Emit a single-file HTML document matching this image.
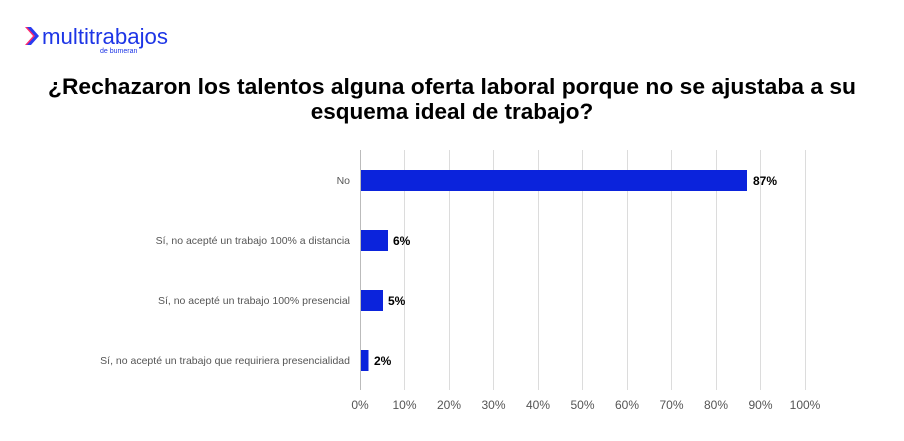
<!DOCTYPE html>
<html><head><meta charset="utf-8"><style>
body{margin:0;background:#fff;width:904px;height:436px;overflow:hidden;font-family:"Liberation Sans",Arial,sans-serif}
</style></head><body>
<svg width="904" height="436" xmlns="http://www.w3.org/2000/svg" font-family="Liberation Sans, Arial, sans-serif">
<rect width="904" height="436" fill="#fff"/>
<polygon points="25,27 33,36 25,45 29,45 37,36 29,27" fill="#ff2a6d"/>
<polygon points="27,27 35,36 27,45 31,45 39,36 31,27" fill="#2a3cf0"/>
<text x="42" y="44" font-size="22" fill="#1d35e6" textLength="126" lengthAdjust="spacingAndGlyphs">multitrabajos</text>
<text x="100" y="53" font-size="7" fill="#1d35e6">de bumeran</text>
<text x="452" y="94" font-size="22.5" font-weight="bold" text-anchor="middle" fill="#000" textLength="808" lengthAdjust="spacingAndGlyphs">¿Rechazaron los talentos alguna oferta laboral porque no se ajustaba a su</text>
<text x="452" y="119" font-size="22.5" font-weight="bold" text-anchor="middle" fill="#000">esquema ideal de trabajo?</text>
<g stroke="#dcdcdc" stroke-width="1">
<line x1="360.5" y1="150" x2="360.5" y2="390" stroke="#bbb"/>
<line x1="404.5" y1="150" x2="404.5" y2="390"/>
<line x1="449.5" y1="150" x2="449.5" y2="390"/>
<line x1="493.5" y1="150" x2="493.5" y2="390"/>
<line x1="538.5" y1="150" x2="538.5" y2="390"/>
<line x1="582.5" y1="150" x2="582.5" y2="390"/>
<line x1="627.5" y1="150" x2="627.5" y2="390"/>
<line x1="671.5" y1="150" x2="671.5" y2="390"/>
<line x1="716.5" y1="150" x2="716.5" y2="390"/>
<line x1="760.5" y1="150" x2="760.5" y2="390"/>
<line x1="805.5" y1="150" x2="805.5" y2="390"/>
</g>
<g fill="#0b23dc">
<rect x="361" y="170" width="386" height="21"/>
<rect x="361" y="230" width="27" height="21"/>
<rect x="361" y="290" width="22" height="21"/>
<rect x="361" y="350" width="7.5" height="21"/>
</g>
<g font-size="12" font-weight="bold" fill="#000">
<text x="753" y="185">87%</text>
<text x="393" y="245">6%</text>
<text x="388" y="305">5%</text>
<text x="374" y="365">2%</text>
</g>
<g font-size="10.5" fill="#555" text-anchor="end">
<text x="350" y="184">No</text>
<text x="350" y="244">Sí, no acepté un trabajo 100% a distancia</text>
<text x="350" y="304">Sí, no acepté un trabajo 100% presencial</text>
<text x="350" y="364">Sí, no acepté un trabajo que requiriera presencialidad</text>
</g>
<g font-size="12" fill="#555" text-anchor="middle">
<text x="360" y="409">0%</text><text x="404.5" y="409">10%</text><text x="449" y="409">20%</text>
<text x="493.5" y="409">30%</text><text x="538" y="409">40%</text><text x="582.5" y="409">50%</text>
<text x="627" y="409">60%</text><text x="671.5" y="409">70%</text><text x="716" y="409">80%</text>
<text x="760.5" y="409">90%</text><text x="805" y="409">100%</text>
</g>
</svg>
</body></html>
